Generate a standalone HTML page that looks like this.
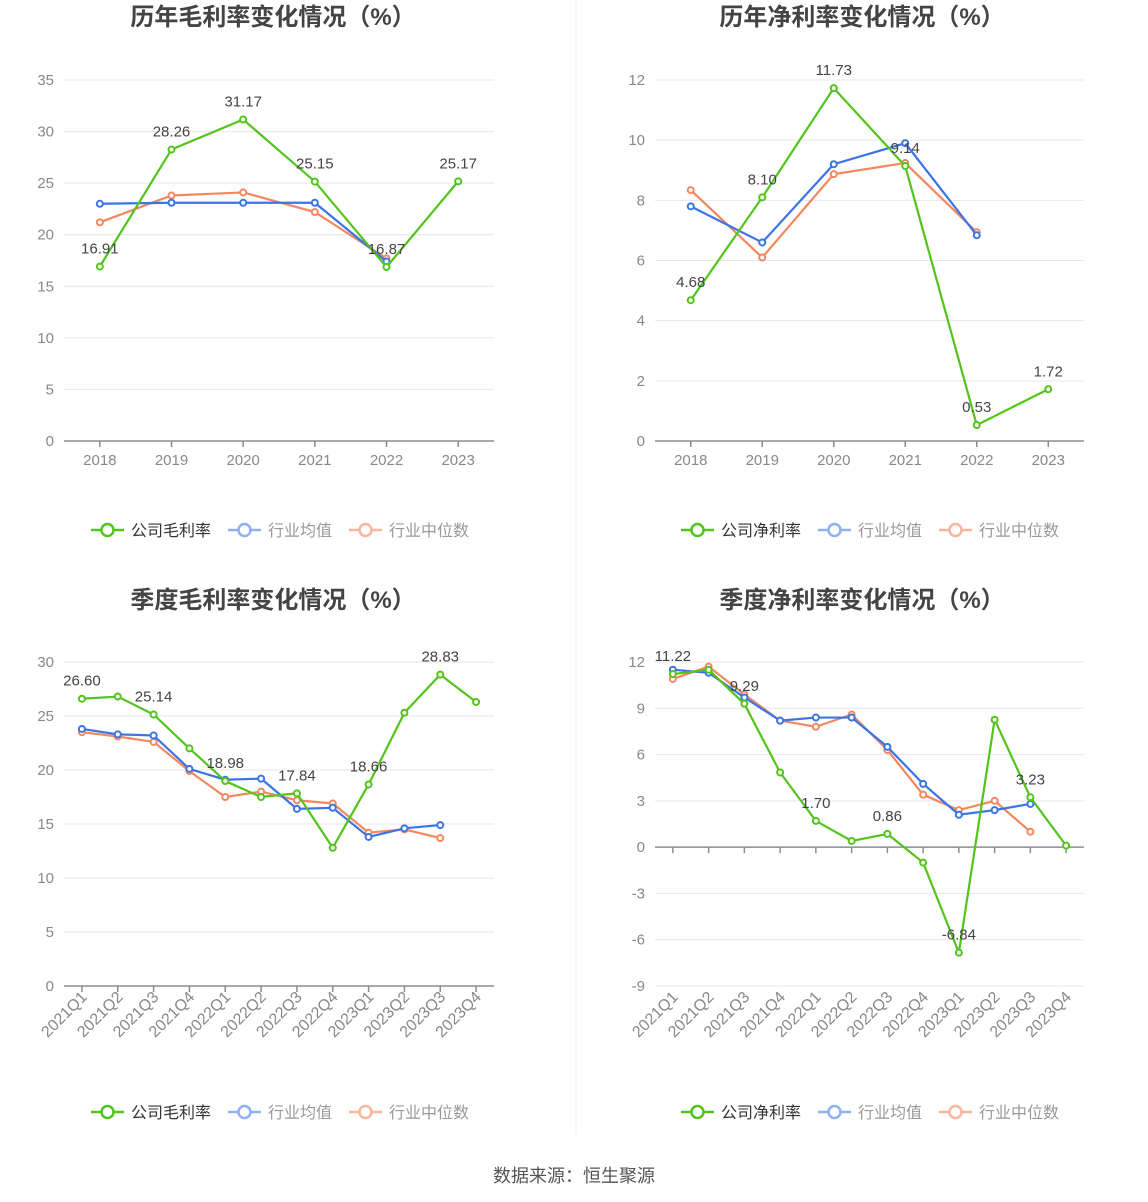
<!DOCTYPE html>
<html><head><meta charset="utf-8">
<style>
body{margin:0;background:#fff;width:1148px;height:1202px;overflow:hidden;font-family:"Liberation Sans","Noto Sans CJK SC",sans-serif;}
svg{position:absolute;left:0;top:0}
text{font-family:"Liberation Sans","Noto Sans CJK SC",sans-serif}
</style></head>
<body>
<svg id="root" width="1148" height="1202"></svg>
<script>
// ---- data ----
const yearCats = ["2018","2019","2020","2021","2022","2023"];
const quarterCats = ["2021Q1","2021Q2","2021Q3","2021Q4","2022Q1","2022Q2","2022Q3","2022Q4","2023Q1","2023Q2","2023Q3","2023Q4"];

const grossYearCompany = [16.91,28.26,31.17,25.15,16.87,25.17];
const grossYearAvg = [23.0,23.1,23.1,23.1,17.4];
const grossYearMedian = [21.2,23.8,24.1,22.2,17.7];
const grossYearTicks = [0,5,10,15,20,25,30,35];

const netYearCompany = [4.68,8.10,11.73,9.14,0.53,1.72];
const netYearAvg = [7.8,6.6,9.2,9.9,6.84];
const netYearMedian = [8.34,6.1,8.87,9.24,6.94];
const netYearTicks = [0,2,4,6,8,10,12];

const grossQCompany = [26.60,26.8,25.14,22.0,18.98,17.5,17.84,12.8,18.66,25.3,28.83,26.3];
const grossQAvg = [23.8,23.3,23.2,20.1,19.1,19.2,16.4,16.5,13.8,14.6,14.9];
const grossQMedian = [23.5,23.1,22.6,19.9,17.5,18.0,17.2,16.9,14.2,14.5,13.7];
const grossQTicks = [0,5,10,15,20,25,30];

const netQCompany = [11.22,11.5,9.29,4.84,1.70,0.4,0.86,-1.0,-6.84,8.26,3.23,0.1];
const netQAvg = [11.5,11.3,9.7,8.2,8.4,8.4,6.5,4.1,2.1,2.4,2.8];
const netQMedian = [10.9,11.7,9.9,8.2,7.8,8.6,6.3,3.4,2.4,3.0,1.0];
const netQTicks = [-9,-6,-3,0,3,6,9,12];

const NS="http://www.w3.org/2000/svg";
const root=document.getElementById('root');
function el(tag,attrs,parent,txt){const e=document.createElementNS(NS,tag);for(const k in attrs)e.setAttribute(k,attrs[k]);if(txt!==undefined)e.textContent=txt;(parent||root).appendChild(e);return e;}

const GREEN="#52c41a",BLUE="#3b74e6",ORANGE="#f5875f";

function chart(o){
  const g=el('g',{});
  
  
  const t=el('text',{x:o.cx,y:o.titleY,'text-anchor':'middle','font-size':24,'font-weight':'bold',fill:'#444'},g,o.title);
  
  const x0=o.left,x1=o.right,n=o.cats.length,band=(x1-x0)/n;
  const tmin=o.ticks[0],tmax=o.ticks[o.ticks.length-1];
  const X=i=>x0+band*(i+0.5);
  const Y=v=>o.bottom-(v-tmin)/(tmax-tmin)*(o.bottom-o.top);
  o.ticks.forEach(tv=>{
    const gl=el('line',{x1:x0,x2:x1,y1:Y(tv),y2:Y(tv),stroke:'#e6e6ef','stroke-width':1},g);
    
    const tl=el('text',{x:x0-10,y:Y(tv)+5,'text-anchor':'end','font-size':15,fill:'#888'},g,String(tv));
    
  });
  const zy=Y(o.axisAt);
  const ax=el('line',{x1:x0,x2:x1,y1:zy,y2:zy,stroke:'#8a8d99','stroke-width':1.5},g);
  
  o.cats.forEach((c,i)=>{
    const tk=el('line',{x1:X(i),x2:X(i),y1:zy,y2:zy+6,stroke:'#8a8d99','stroke-width':1.5},g);
    
    let lab;
    if(o.rotate){
      const ly=o.bottom+12;
      lab=el('text',{x:X(i)+6,y:ly,'text-anchor':'end','font-size':16,fill:'#888',transform:`rotate(-45 ${X(i)+6} ${ly})`},g,c);
    }else{
      lab=el('text',{x:X(i),y:o.bottom+24,'text-anchor':'middle','font-size':15,fill:'#888'},g,c);
    }
    
  });
  const series=[[o.median,ORANGE,'industry-median-line'],[o.avg,BLUE,'industry-average-line'],[o.company,GREEN,'company-line']];
  series.forEach(([arr,col,nm])=>{
    const pts=arr.map((v,i)=>X(i)+','+Y(v)).join(' ');
    const pl=el('polyline',{points:pts,fill:'none',stroke:col,'stroke-width':2.2},g);
    
    arr.forEach((v,i)=>{
      const c=el('circle',{cx:X(i),cy:Y(v),r:3,fill:'#fff',stroke:col,'stroke-width':2},g);
      
    });
  });
  o.company.forEach((v,i)=>{
    if(o.labelIdx.indexOf(i)<0)return;
    const l=el('text',{x:X(i),y:Y(v)-13,'text-anchor':'middle','font-size':15,fill:'#444'},g,v.toFixed(2));
    
  });
  const lg=el('g',{},g);
  const items=[[o.legend0,GREEN,'#333',o.lx],['行业均值','#8fb0f3','#999',o.lx+137],['行业中位数','#f9b59d','#999',o.lx+258]];
  items.forEach(([txt,col,tc,lx])=>{
    const it=el('g',{},lg);
    el('line',{x1:lx,x2:lx+33,y1:o.legY,y2:o.legY,stroke:col,'stroke-width':2.5},it);
    el('circle',{cx:lx+16.5,cy:o.legY,r:6,fill:'#fff',stroke:col,'stroke-width':2.5},it);
    el('text',{x:lx+40,y:o.legY+6,'font-size':16,fill:tc},it,txt);
  });
}

chart({name:'annual-gross-margin-chart',title:'历年毛利率变化情况（%）',cx:273,titleY:25,left:64,right:494,top:80,bottom:441,
  cats:yearCats,ticks:grossYearTicks,axisAt:0,company:grossYearCompany,avg:grossYearAvg,median:grossYearMedian,
  labelIdx:[0,1,2,3,4,5],legend0:'公司毛利率',lx:91,legY:530,rotate:false});
chart({name:'annual-net-margin-chart',title:'历年净利率变化情况（%）',cx:862,titleY:25,left:655,right:1084,top:80,bottom:441,
  cats:yearCats,ticks:netYearTicks,axisAt:0,company:netYearCompany,avg:netYearAvg,median:netYearMedian,
  labelIdx:[0,1,2,3,4,5],legend0:'公司净利率',lx:681,legY:530,rotate:false});
chart({name:'quarterly-gross-margin-chart',title:'季度毛利率变化情况（%）',cx:273,titleY:608,left:64,right:494,top:662,bottom:986,
  cats:quarterCats,ticks:grossQTicks,axisAt:0,company:grossQCompany,avg:grossQAvg,median:grossQMedian,
  labelIdx:[0,2,4,6,8,10],legend0:'公司毛利率',lx:91,legY:1112,rotate:true});
chart({name:'quarterly-net-margin-chart',title:'季度净利率变化情况（%）',cx:862,titleY:608,left:655,right:1084,top:662,bottom:986,
  cats:quarterCats,ticks:netQTicks,axisAt:0,company:netQCompany,avg:netQAvg,median:netQMedian,
  labelIdx:[0,2,4,6,8,10],legend0:'公司净利率',lx:681,legY:1112,rotate:true});

const dv=el('line',{x1:576,x2:576,y1:0,y2:1135,stroke:'#eeeeee','stroke-width':1});

const src=el('text',{x:574,y:1182,'text-anchor':'middle','font-size':18,fill:'#555'},root,'数据来源：恒生聚源');

</script>
</body></html>
